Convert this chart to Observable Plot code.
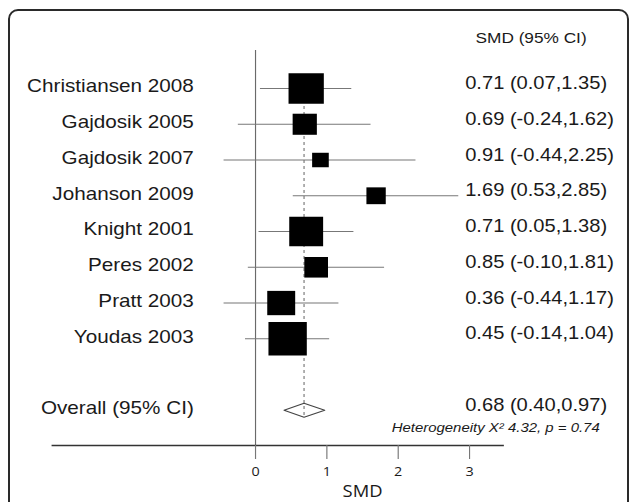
<!DOCTYPE html>
<html><head><meta charset="utf-8">
<script src="https://cdn.jsdelivr.net/npm/d3@7"></script>
<script src="https://cdn.jsdelivr.net/npm/@observablehq/plot@0.6"></script>
<style>
html,body{margin:0;padding:0;background:#fff;}
#wrap{position:relative;width:629px;height:502px;overflow:hidden;background:#fff;}
#border{position:absolute;left:8px;top:9px;width:617px;height:520px;border:2px solid #2a2a2a;border-radius:10px;box-sizing:content-box;}
#chart{position:absolute;left:0;top:0;transform:scaleX(1.15);transform-origin:0 0;}
</style></head><body>
<div id="wrap"><div id="border"></div><div id="chart"></div></div>
<script>
const studies = ["Christiansen 2008","Gajdosik 2005","Gajdosik 2007","Johanson 2009","Knight 2001","Peres 2002","Pratt 2003","Youdas 2003"];
const smd = [0.71,0.69,0.91,1.69,0.71,0.85,0.36,0.45];
const lower = [0.07,-0.24,-0.44,0.53,0.05,-0.10,-0.44,-0.14];
const upper = [1.35,1.62,2.25,2.85,1.38,1.81,1.17,1.04];
const weights = [19.3,9.1,4.3,5.8,17.8,8.7,12.1,22.8];
const overallLabel = "Overall (95% CI)";
const overallSmd = 0.68, overallLower = 0.40, overallUpper = 0.97;
const columnHeader = "SMD (95% CI)";
const heterogeneity = "Heterogeneity X\u00B2 4.32, p = 0.74";
const xTicks = [0,1,2,3];
const xLabel = "SMD";

const fmt = (e,l,u) => `${e.toFixed(2)} (${l.toFixed(2)},${u.toFixed(2)})`;
const overallRow = studies.length + 1;
const rows = studies.map((s,i)=>({study:s,row:i,smd:smd[i],lower:lower[i],upper:upper[i],weight:weights[i],label:fmt(smd[i],lower[i],upper[i])}));
const labelRows = rows.concat([{study:overallLabel,row:overallRow,label:fmt(overallSmd,overallLower,overallUpper)}]);
const half = 0.196;
const diamond = [[overallLower,overallRow],[overallSmd,overallRow-half],[overallUpper,overallRow],[overallSmd,overallRow+half],[overallLower,overallRow]];

const sans = "'Liberation Sans', Arial, sans-serif";
const chart = Plot.plot({
  width:547, height:502,
  marginLeft:45, marginRight:110, marginTop:50, marginBottom:57,
  x:{domain:[0,3], range:[221.7,407.8], axis:null},
  y:{domain:[0,overallRow], range:[88,409.8], axis:null},
  r:{type:"sqrt", domain:[0,23], range:[0,18.9]},
  style:{fontFamily:sans, background:"transparent", color:"#1a1a1a"},
  marks:[
    Plot.ruleX([0], {stroke:"#6a6a6a", strokeWidth:1}),
    Plot.frame({anchor:"bottom", stroke:"#333", strokeWidth:1.3}),
    Plot.axisX({ticks:xTicks, tickSize:14, tickPadding:8, fontSize:12.5, stroke:"#777", fontFamily:"'Open Sans', sans-serif", tickFormat:d=>String(d)}),
    Plot.ruleY(rows, {y:"row", x1:"lower", x2:"upper", stroke:"#777", strokeWidth:1}),
    Plot.line(diamond, {x:d=>d[0], y:d=>d[1], fill:"white", stroke:"#444", strokeWidth:1}),
    Plot.ruleX([overallSmd], {y1:0, y2:overallRow+half, stroke:"#777", strokeDasharray:"3,3"}),
    Plot.dot(rows, {x:"smd", y:"row", r:"weight", symbol:"square", fill:"black", stroke:null}),
    Plot.text(labelRows, {y:"row", text:"study", frameAnchor:"left", dx:123, dy:-2, textAnchor:"end", fontSize:18}),
    Plot.text(labelRows, {y:"row", text:"label", frameAnchor:"left", dx:359, dy:-5, textAnchor:"start", fontSize:17.5}),
    Plot.text([columnHeader], {text:d=>d, frameAnchor:"top-left", dx:368, dy:-18, textAnchor:"start", fontSize:15}),
    Plot.text([heterogeneity], {text:d=>d, frameAnchor:"bottom-right", dx:84, dy:-14, textAnchor:"end", fontSize:13, fontStyle:"italic"}),
    Plot.text([xLabel], {x:()=>d3.mean(xTicks), text:d=>d, frameAnchor:"bottom", dy:51, fontSize:16, fontFamily:"'Open Sans', sans-serif"})
  ]
});
document.getElementById("chart").appendChild(chart);
</script>
</body></html>
